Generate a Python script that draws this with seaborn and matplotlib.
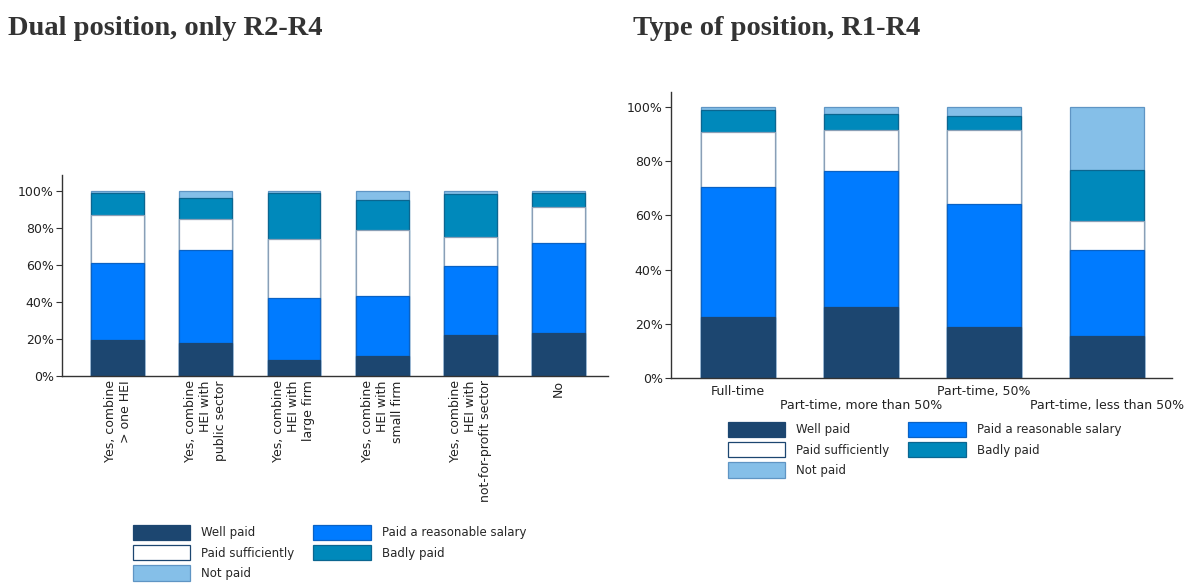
import numpy as np
import pandas as pd
import matplotlib
matplotlib.use("Agg")
import matplotlib.pyplot as plt
from matplotlib.patches import Patch
from matplotlib.ticker import FuncFormatter
import seaborn as sns

# Shares (%), bottom to top of each stack
series_names = ["Well paid", "Paid a reasonable salary", "Paid sufficiently",
                "Badly paid", "Not paid"]

dual_labels = ["Yes, combine\n> one HEI", "Yes, combine\nHEI with\npublic sector",
               "Yes, combine\nHEI with\nlarge firm", "Yes, combine\nHEI with\nsmall firm",
               "Yes, combine\nHEI with\nnot-for-profit sector", "No"]
dual_well = [19.5, 18.0, 8.5, 10.8, 22.2, 23.2]
dual_reasonable = [41.5, 50.1, 33.8, 32.4, 37.4, 48.9]
dual_sufficient = [26.0, 16.6, 31.8, 35.5, 15.5, 19.3]
dual_badly = [12.0, 11.5, 25.0, 16.4, 23.1, 7.7]
dual_not = [1.0, 3.8, 0.9, 4.9, 1.8, 0.9]

type_labels = ["Full-time", "Part-time, more than 50%", "Part-time, 50%",
               "Part-time, less than 50%"]
type_well = [22.5, 26.1, 18.9, 15.5]
type_reasonable = [48.1, 50.2, 45.3, 31.9]
type_sufficient = [20.0, 15.1, 27.2, 10.6]
type_badly = [8.4, 6.0, 5.4, 18.8]
type_not = [1.0, 2.6, 3.2, 23.2]

fills = ["#1c4670", "#007bff", "#ffffff", "#0089bb", "#85bfe8"]
edges = ["#1c4670", "#0a62c4", "#8a9fb6", "#0b6690", "#5f95c4"]

sns.set_style("white")
plt.rcParams["font.family"] = ["DejaVu Sans"]


def stacked(ax, labels, layers):
    """Draw stacked bars by overlaying cumulative totals, top layer first."""
    cum = np.cumsum(np.array(layers), axis=0)
    for i in range(len(layers) - 1, -1, -1):
        df = pd.DataFrame({"cat": labels, "val": cum[i]})
        sns.barplot(data=df, x="cat", y="val", order=labels, color=fills[i],
                    saturation=1, width=0.6, edgecolor=edges[i], linewidth=0.9,
                    ax=ax)
    ax.set_xlabel("")
    ax.set_ylabel("")
    ax.set_yticks(range(0, 101, 20))
    ax.yaxis.set_major_formatter(FuncFormatter(lambda v, p: f"{v:.0f}%"))
    for s in ["top", "right"]:
        ax.spines[s].set_visible(False)
    for s in ["left", "bottom"]:
        ax.spines[s].set_color("#333333")
        ax.spines[s].set_linewidth(1.0)
    ax.tick_params(axis="y", length=4, width=0.8, color="#333333",
                   labelsize=9, labelcolor="#222222", pad=2, left=True)
    ax.tick_params(axis="x", length=0, labelsize=9, labelcolor="#222222")


def legend(ax, anchor):
    order = [0, 2, 4, 1, 3]
    handles = [Patch(facecolor=fills[i], edgecolor=edges[i] if i != 2 else "#1c4670",
                     linewidth=0.9, label=series_names[i]) for i in order]
    ax.legend(handles=handles, ncol=2, loc="upper left", bbox_to_anchor=anchor,
              bbox_transform=ax.figure.transFigure, frameon=False,
              handlelength=4.9, handleheight=1.65, handletextpad=0.9,
              columnspacing=1.6, labelspacing=0.4, prop={"size": 8.5})


fig = plt.figure(figsize=(11.88, 5.84), dpi=100)

# left: dual position
ax1 = fig.add_axes([62 / 1188, 1 - 376 / 584, 546 / 1188, 201 / 584])
stacked(ax1, dual_labels,
        [dual_well, dual_reasonable, dual_sufficient, dual_badly, dual_not])
ax1.set_xlim(-0.63, 5.56)
ax1.set_ylim(0, 108.6)
for t in ax1.get_xticklabels():
    t.set_rotation(90)
    t.set_multialignment("right")
    t.set_va("top")
    t.set_ha("center")
ax1.tick_params(axis="x", pad=3)
legend(ax1, (122 / 1188, 1 - 514 / 584))

# right: type of position
ax2 = fig.add_axes([671 / 1188, 1 - 378 / 584, 501 / 1188, 286 / 584])
stacked(ax2, type_labels,
        [type_well, type_reasonable, type_sufficient, type_badly, type_not])
ax2.set_xlim(-0.545, 3.53)
ax2.set_ylim(0, 105.5)
for k, tick in enumerate(ax2.xaxis.get_major_ticks()):
    tick.set_pad(15 if k % 2 else 5)
legend(ax2, (717 / 1188, 1 - 411 / 584))

title_kw = dict(fontsize=20.5, fontweight="bold", color="#333333",
                family=["Liberation Serif", "DejaVu Serif"], va="baseline")
fig.text(8 / 1188, 1 - 35 / 584, "Dual position, only R2-R4", **title_kw)
fig.text(633 / 1188, 1 - 35 / 584, "Type of position, R1-R4", **title_kw)

fig.savefig("out.png", dpi=100)
